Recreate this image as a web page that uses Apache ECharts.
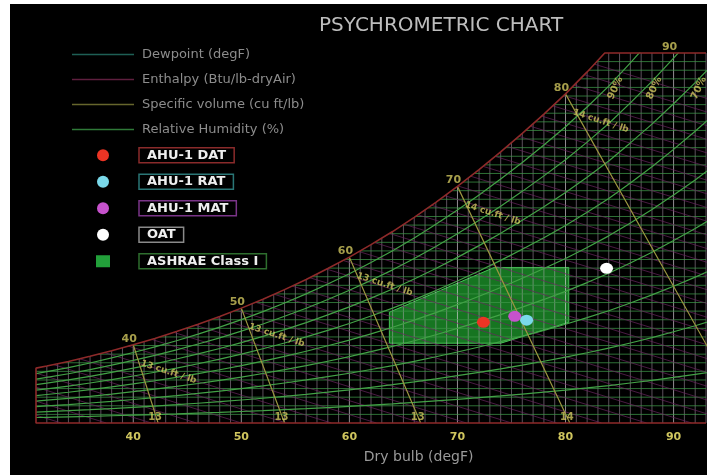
<!DOCTYPE html>
<html><head><meta charset="utf-8">
<script src="https://cdn.jsdelivr.net/npm/echarts@6/dist/echarts.min.js"></script>
<style>html,body{margin:0;padding:0;background:#fff;}#c{width:712px;height:475px;}</style>
</head><body><div id="c"></div>
<script>
// ---- data ----
const satDryBulb = [31,32,34,36,38,40,42,44,46,48,50,52,54,56,58,60,62,64,66,68,70,72,74,76,78,80,82,84,86,88,90,92,94];
const satGrains  = [25.5,26.5,28.6,31.0,33.6,36.4,39.3,42.5,45.9,49.5,53.4,57.5,62.0,66.7,71.8,77.1,82.9,89.0,95.6,102.6,110.0,117.8,126.0,134.6,143.6,153.0,163.2,174.0,186.0,198.5,212.0,226.0,241.0];
const dryBulbTicks = [40,50,60,70,80,90];
const chartMinDryBulb = 31, chartMaxDryBulb = 93, chartMaxGrains = 172;
const humidityLineStep = 4;          // grains/lb between horizontal lines
const dryBulbLineStep = 1;           // degF between vertical lines
const enthalpyMin = 8, enthalpyMax = 46, enthalpyStep = 1;
const rhLevels = [10,20,30,40,50,60,70,80,90];
const rhLabelLevels = [90,80,70];
const rhLabelGrains = 162;
const volStartDryBulb = [40,50,60,70,80];
const volEndDryBulb   = [42.3,54.0,66.6,80.4,97.1];
const volLineLabels   = ['13 cu.ft / lb','13 cu.ft / lb','13 cu.ft / lb','14 cu.ft / lb','14 cu.ft / lb'];
const volBottomLabels = ['13','13','13','14'];
const ashraeDryBulb = [63.7,63.7,73.4,80.3,80.3,74.0];
const ashraeGrains  = [37.1,51.5,72.3,72.3,46.8,37.1];
const pointNames   = ['AHU-1 DAT','AHU-1 RAT','AHU-1 MAT','OAT'];
const pointDryBulb = [72.4,76.4,75.3,83.8];
const pointGrains  = [46.8,47.8,49.6,71.9];
const pointColors  = ['#ec3424','#7ad9ea','#c652cc','#ffffff'];
const legendNames = ['Dewpoint (degF)','Enthalpy (Btu/lb-dryAir)','Specific volume (cu ft/lb)','Relative Humidity (%)'];
const legendLineColors = ['#1e5f55','#5e1f3e','#66662c','#2f7a38'];

// ---- helpers ----
function interp(xs, ys, x){
  for (let i=0;i<xs.length-1;i++){
    if (x <= xs[i+1]) { const f=(x-xs[i])/(xs[i+1]-xs[i]); return ys[i]+f*(ys[i+1]-ys[i]); }
  }
  return ys[ys.length-1];
}
const satAt = t => interp(satDryBulb, satGrains, t);
const tAtSat = w => interp(satGrains, satDryBulb, w);
const BRK = ['-','-'];
function flatten(segs){ const out=[]; segs.forEach((s,i)=>{ if(i) out.push(BRK); s.forEach(p=>out.push(p)); }); return out; }
const enth = (t,w) => 0.24*t + (w/7000)*(1061+0.444*t);

// vertical dry bulb lines
const vMinor=[], vMajor=[];
for (let t=chartMinDryBulb+dryBulbLineStep; t<=chartMaxDryBulb; t+=dryBulbLineStep){
  const seg=[[t,0],[t,Math.min(satAt(t),chartMaxGrains)]];
  (t%10===0 ? vMajor : vMinor).push(seg);
}
// horizontal lines
const hLines=[];
for (let w=humidityLineStep; w<chartMaxGrains; w+=humidityLineStep){
  hLines.push([[Math.max(chartMinDryBulb,tAtSat(w)),w],[chartMaxDryBulb,w]]);
}
// enthalpy lines
const eLines=[];
const hs0 = enth(satDryBulb[0], satGrains[0]);
for (let h=enthalpyMin; h<=enthalpyMax; h+=enthalpyStep){
  let start=null;
  if (h < hs0){
    const w=(h-0.24*chartMinDryBulb)/(1061+0.444*chartMinDryBulb)*7000;
    if (w>0) start=[chartMinDryBulb,w];
  } else {
    for (let i=0;i<satDryBulb.length-1;i++){
      const a=enth(satDryBulb[i],satGrains[i]), b=enth(satDryBulb[i+1],satGrains[i+1]);
      if (h>=a && h<=b){ const t=satDryBulb[i]+(h-a)/(b-a)*(satDryBulb[i+1]-satDryBulb[i]); start=[t,satAt(t)]; break; }
    }
  }
  if (start) eLines.push([start,[h/0.24,0]]);
}
// RH curves
const rhLines = rhLevels.map(r => satDryBulb.map((t,i)=>[t, satGrains[i]*r/100]));
// specific volume lines
const vol = volStartDryBulb.map((t,i)=>[[t,satAt(t)],[volEndDryBulb[i],0]]);
// boundary
const tTop = tAtSat(chartMaxGrains);
const boundary = [[chartMaxDryBulb,0],[chartMinDryBulb,0]];
satDryBulb.forEach((t,i)=>{ if (t < tTop) boundary.push([t,satGrains[i]]); });
boundary.push([tTop,chartMaxGrains],[chartMaxDryBulb,chartMaxGrains]);

const lineBase = {type:'line', symbol:'none', showSymbol:false, connectNulls:false, silent:true, animation:false};
const labelYellow = '#cfc55e';
const labelBase = {type:'scatter', symbolSize:1, itemStyle:{color:'rgba(0,0,0,0)'}, silent:true, clip:false, z:6, animation:false};
const boxText = (border) => ({color:'#eeeeee', fontWeight:'bold', fontFamily:'DejaVu Sans', fontSize:13, lineHeight:13, borderColor:border, borderWidth:1.5, padding:[1,8,1,8]});
const lineIcon = 'path://M0,0h62v1.6h-62z';

const chart = echarts.init(document.getElementById('c'));
chart.setOption({
  backgroundColor:'transparent',
  animation:false,
  graphic:[{type:'rect', z:-100, silent:true, shape:{x:10,y:4,width:697,height:471}, style:{fill:'#000'}}],
  title:{text:'PSYCHROMETRIC CHART', left:314, top:11, textStyle:{color:'#bdbdbd', fontSize:20, fontWeight:'normal', fontFamily:'DejaVu Sans'}},
  grid:{left:25.2, right:6, top:53, bottom:52},
  xAxis:{type:'value', min:30, max:chartMaxDryBulb, interval:10,
    axisLine:{show:false}, axisTick:{show:false}, splitLine:{show:false},
    axisLabel:{color:labelYellow, fontFamily:'DejaVu Sans', fontWeight:'bold', fontSize:11, margin:9,
      formatter: v => dryBulbTicks.includes(v) ? String(v) : ''},
    name:'Dry bulb (degF)', nameLocation:'middle', nameGap:27,
    nameTextStyle:{color:'#9a9a9a', fontFamily:'DejaVu Sans', fontSize:14, padding:[0,0,0,106]}},
  yAxis:{type:'value', min:0, max:chartMaxGrains, show:false, splitLine:{show:false}},
  legend:{orient:'vertical', left:72, top:47, padding:0, itemWidth:62, itemHeight:12, itemGap:10, selectedMode:false,
    textStyle:{fontFamily:'DejaVu Sans', fontSize:13, lineHeight:13, color:'#8c8c8c', padding:[1,3,1,3]},
    data:[
      ...legendNames.map((n,i)=>({name:n, icon:lineIcon, itemStyle:{color:legendLineColors[i], opacity:1}})),
      {name:pointNames[0], icon:'circle', itemStyle:{color:pointColors[0], opacity:1}, textStyle:boxText('#8a2b2b')},
      {name:pointNames[1], icon:'circle', itemStyle:{color:pointColors[1], opacity:1}, textStyle:boxText('#2a7676')},
      {name:pointNames[2], icon:'circle', itemStyle:{color:pointColors[2], opacity:1}, textStyle:boxText('#7a3488')},
      {name:pointNames[3], icon:'circle', itemStyle:{color:pointColors[3], opacity:1}, textStyle:boxText('#8a8a8a')},
      {name:'ASHRAE Class I', icon:'path://M0,0h14v12h-14z', itemStyle:{color:'#22a03a', opacity:1}, textStyle:boxText('#2e6e2e')}
    ]},
  series:[
    {type:'custom', name:'ASHRAE Class I', z:1, silent:true, data:[0], itemStyle:{color:'#22a03a'},
      renderItem:(params, api)=>({type:'polygon',
        shape:{points: ashraeDryBulb.map((t,i)=>api.coord([t, ashraeGrains[i]]))},
        style:{fill:'rgba(28,150,42,0.78)', stroke:'#46c456', lineWidth:1}})},
    Object.assign({}, lineBase, {name:'dry bulb', z:2, data:flatten(vMinor), lineStyle:{color:'rgba(205,180,205,0.45)', width:1}}),
    Object.assign({}, lineBase, {name:'dry bulb major', z:2, data:flatten(vMajor), lineStyle:{color:'rgba(225,215,225,0.65)', width:1}}),
    Object.assign({}, lineBase, {name:legendNames[0], z:2, data:flatten(hLines), lineStyle:{color:'rgba(62,150,72,0.75)', width:1}}),
    Object.assign({}, lineBase, {name:legendNames[1], z:2, data:flatten(eLines), lineStyle:{color:'rgba(105,38,95,0.7)', width:1}}),
    Object.assign({}, lineBase, {name:legendNames[3], z:3, data:flatten(rhLines), lineStyle:{color:'#42a246', width:1.2}}),
    Object.assign({}, lineBase, {name:legendNames[2], z:3, data:flatten(vol), lineStyle:{color:'#9b9540', width:1.2}}),
    Object.assign({}, lineBase, {name:'boundary', z:4, clip:false, data:boundary, lineStyle:{color:'#8e2a2a', width:1.6}}),
    // points
    ...pointNames.map((n,i)=>({type:'scatter', name:n, z: i===1 ? 8 : 7, symbol:'circle', symbolSize:[13,11],
      itemStyle:{color:pointColors[i], opacity:1}, data:[[pointDryBulb[i], pointGrains[i]]], silent:true, animation:false})),
    // labels: dry bulb at saturation
    Object.assign({}, labelBase, {name:'db labels',
      data: dryBulbTicks.map(t=>({name:String(t), value:[t, Math.min(satAt(t), chartMaxGrains)]})),
      label:{show:true, formatter:'{b}', color:labelYellow, fontFamily:'DejaVu Sans', fontWeight:'bold', fontSize:11, offset:[-4,-6]}}),
    // specific volume labels
    Object.assign({}, labelBase, {name:'vol labels',
      data: volStartDryBulb.map((t,i)=>({name:volLineLabels[i], value:[t, satAt(t)]})),
      label:{show:true, formatter:'{b}', color:labelYellow, fontFamily:'DejaVu Sans', fontWeight:'bold', fontSize:9, rotate:-18, offset:[42,15]}}),
    Object.assign({}, labelBase, {name:'vol bottom labels',
      data: volBottomLabels.map((s,i)=>({name:s, value:[volEndDryBulb[i], 0]})),
      label:{show:true, formatter:'{b}', color:labelYellow, fontFamily:'DejaVu Sans', fontWeight:'bold', fontSize:10, offset:[-3,-6]}}),
    // RH labels
    Object.assign({}, labelBase, {name:'rh labels',
      data: rhLabelLevels.map(r=>({name:r+'%', value:[tAtSat(rhLabelGrains*100/r), rhLabelGrains]})),
      label:{show:true, formatter:'{b}', color:labelYellow, fontFamily:'DejaVu Sans', fontWeight:'bold', fontSize:10, rotate:65, offset:[-14,2]}})
  ]
});
</script></body></html>
